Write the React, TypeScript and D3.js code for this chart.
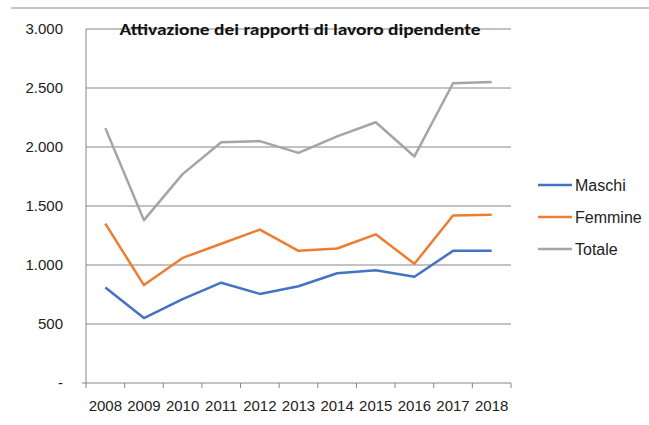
import React from "react";
import * as d3 from "d3";

const years = ["2008","2009","2010","2011","2012","2013","2014","2015","2016","2017","2018"];
const maschi = [810, 550, 710, 850, 755, 820, 930, 955, 900, 1120, 1120];
const femmine = [1350, 830, 1060, 1180, 1300, 1120, 1140, 1260, 1010, 1420, 1425];
const totale = [2160, 1380, 1770, 2040, 2050, 1950, 2090, 2210, 1920, 2540, 2550];
const yTicks = [0, 500, 1000, 1500, 2000, 2500, 3000];
const seriesNames = ["Maschi", "Femmine", "Totale"];
const seriesColors = ["#4472C4", "#ED7D31", "#A5A5A5"];
const title = "Attivazione dei rapporti di lavoro dipendente";

export default function App() {
  const W = 649, H = 425;
  const left = 86, right = 511, top = 29, bottom = 383;
  const x = d3.scaleBand().domain(years).range([left, right]);
  const y = d3.scaleLinear().domain([0, 3000]).range([bottom, top]);
  const fmt = (v: number) => (v === 0 ? "-" : d3.format(",")(v).replace(/,/g, "."));
  const series = [maschi, femmine, totale];
  const line = d3.line<number>().x((_, i) => (x(years[i]) as number) + x.bandwidth() / 2).y((d) => y(d));
  const font = "'Liberation Sans', Arial, sans-serif";
  const titleFont = "Carlito, Calibri, 'Liberation Sans', sans-serif";
  const boundaries = d3.range(years.length + 1).map((i) => left + i * x.step());
  return (
    <svg width={W} height={H} style={{ position: "absolute", left: 0, top: 0 }}>
      <rect x={0} y={0} width={W} height={H} fill="#fff" />
      <line x1={11} x2={W} y1={8} y2={8} stroke="#8c8c8c" strokeWidth={1} />
      {yTicks.filter((t) => t > 0).map((t) => (
        <line key={t} x1={left} x2={right} y1={y(t)} y2={y(t)} stroke="#868686" strokeWidth={1} />
      ))}
      <line x1={left} x2={left} y1={top} y2={bottom} stroke="#868686" />
      <line x1={left - 4} x2={right} y1={bottom} y2={bottom} stroke="#868686" />
      {boundaries.map((b, i) => (
        <line key={i} x1={b} x2={b} y1={bottom} y2={bottom + 5} stroke="#868686" />
      ))}
      {yTicks.map((t) => (
        <text key={t} x={63} y={y(t)} dy="0.35em" textAnchor="end" fontFamily={font} fontSize={15} fill="#222">
          {fmt(t)}
        </text>
      ))}
      {years.map((yr) => (
        <text key={yr} x={(x(yr) as number) + x.bandwidth() / 2} y={406} dy="0.35em" textAnchor="middle" fontFamily={font} fontSize={15} fill="#222">
          {yr}
        </text>
      ))}
      {series.map((s, i) => (
        <path key={i} d={line(s) || ""} fill="none" stroke={seriesColors[i]} strokeWidth={2.5} strokeLinejoin="round" />
      ))}
      <text x={300} y={29} dy="0.35em" textAnchor="middle" fontFamily={titleFont} fontWeight="bold" fontSize={16} fill="#111" textLength={361} lengthAdjust="spacingAndGlyphs">
        {title}
      </text>
      {seriesNames.map((n, i) => (
        <g key={n}>
          <line x1={538} x2={572} y1={185 + i * 32} y2={185 + i * 32} stroke={seriesColors[i]} strokeWidth={2.5} />
          <text x={575} y={185 + i * 32} dy="0.35em" fontFamily={font} fontSize={16} fill="#222">
            {n}
          </text>
        </g>
      ))}
    </svg>
  );
}
